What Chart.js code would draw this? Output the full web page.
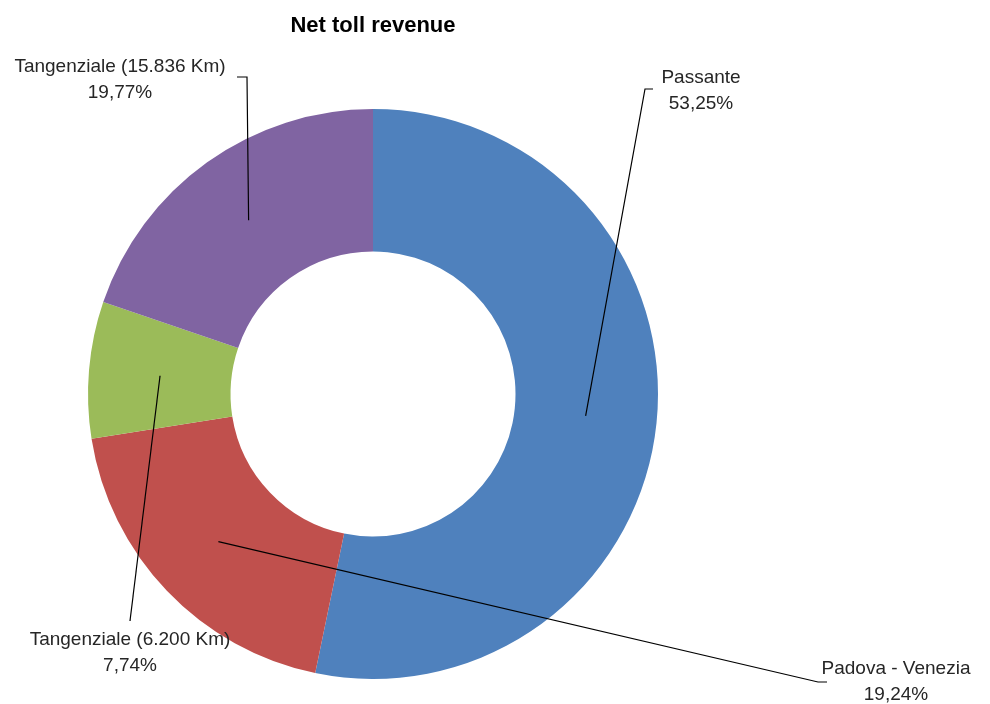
<!DOCTYPE html>
<html>
<head>
<meta charset="utf-8">
<script src="https://cdn.jsdelivr.net/npm/chart.js@4.4.1/dist/chart.umd.min.js"></script>
<style>
  html, body { margin: 0; padding: 0; background: #fff; }
  #wrap { width: 990px; height: 704px; }
</style>
</head>
<body>
<div id="wrap"><canvas id="chart"></canvas></div>
<script>
const segments = ['Passante', 'Padova - Venezia', 'Tangenziale (6.200 Km)', 'Tangenziale (15.836 Km)']
const shares = [53.25, 19.24, 7.74, 19.77]
const colors = ['#4F81BD', '#C0504D', '#9BBB59', '#8064A2']

// callout placement, offsets from the doughnut centre
const callouts = [
  { text: [328, -303], bend: [272, -305], end: [280, -305] },
  { text: [523, 288], bend: [445, 288], end: [454, 288] },
  { text: [-243, 259], bend: null, end: [-243, 227] },
  { text: [-253, -314], bend: [-126, -317], end: [-136, -317] },
]

const fmtPct = (v) => v.toFixed(2).replace('.', ',') + '%'

const calloutPlugin = {
  id: 'callouts',
  afterDatasetsDraw(chart) {
    const ctx = chart.ctx
    const meta = chart.getDatasetMeta(0)
    const cx = meta.data[0].x
    const cy = meta.data[0].y
    ctx.save()
    ctx.strokeStyle = '#000'
    ctx.lineWidth = 1.2
    ctx.fillStyle = '#262626'
    ctx.font = '19px "Liberation Sans", Arial, sans-serif'
    ctx.textAlign = 'center'
    ctx.textBaseline = 'middle'
    meta.data.forEach((arc, i) => {
      const c = callouts[i]
      const p = arc.getCenterPoint()
      ctx.beginPath()
      ctx.moveTo(p.x, p.y)
      if (c.bend) ctx.lineTo(cx + c.bend[0], cy + c.bend[1])
      ctx.lineTo(cx + c.end[0], cy + c.end[1])
      ctx.stroke()
      const tx = cx + c.text[0]
      const ty = cy + c.text[1]
      ctx.fillText(segments[i], tx, ty - 13)
      ctx.fillText(fmtPct(shares[i]), tx, ty + 13)
    })
    ctx.restore()
  },
}

new Chart(document.getElementById('chart'), {
  type: 'doughnut',
  data: {
    labels: segments,
    datasets: [
      {
        data: shares,
        backgroundColor: colors,
        borderWidth: 0,
      },
    ],
  },
  options: {
    responsive: true,
    maintainAspectRatio: false,
    animation: false,
    cutout: '50%',
    layout: {
      padding: { left: 88, right: 332, top: 6, bottom: 25 },
    },
    plugins: {
      legend: { display: false },
      tooltip: { enabled: false },
      title: {
        display: true,
        text: 'Net toll revenue',
        color: '#000',
        font: { family: '"Liberation Sans", Arial, sans-serif', size: 22, weight: 'bold', lineHeight: 1.2 },
        padding: { top: 7, bottom: 69.6 },
      },
    },
  },
  plugins: [calloutPlugin],
})
</script>
</body>
</html>
